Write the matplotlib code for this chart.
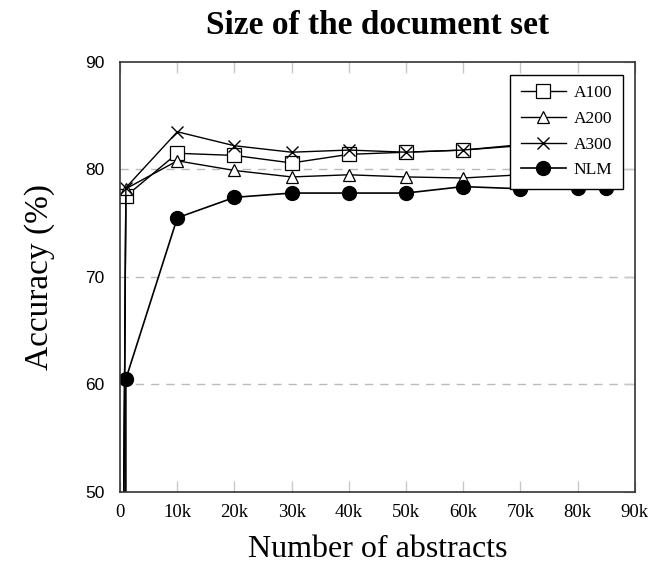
import matplotlib
matplotlib.use("Agg")
import matplotlib.pyplot as plt

# number of abstracts
x_a = [0, 1000, 10000, 20000, 30000, 40000, 50000, 60000, 70000, 80000, 85000]
x_nlm = [1000, 1000, 10000, 20000, 30000, 40000, 50000, 60000, 70000, 80000, 85000]

a100 = [0, 77.5, 81.5, 81.3, 80.6, 81.4, 81.6, 81.8, 82.2, 82.3, 82.4]
a200 = [0, 78.2, 80.8, 79.9, 79.3, 79.5, 79.3, 79.2, 79.5, 79.6, 79.7]
a300 = [0, 78.3, 83.5, 82.2, 81.6, 81.8, 81.6, 81.8, 82.3, 82.4, 82.5]
nlm = [0, 60.5, 75.5, 77.4, 77.8, 77.8, 77.8, 78.4, 78.2, 78.3, 78.3]

xticks = [0, 10000, 20000, 30000, 40000, 50000, 60000, 70000, 80000, 90000]
xticklabels = ["0", "10k", "20k", "30k", "40k", "50k", "60k", "70k", "80k", "90k"]
yticks = [50, 60, 70, 80, 90]

serif = "Liberation Serif"
sans = "Liberation Sans"

fig = plt.figure(figsize=(6.53, 5.68), dpi=100)
ax = fig.add_axes([0.184, 0.134, 0.788, 0.757])

ax.plot(x_a, a100, color="black", lw=1, marker="s", ms=10, mfc="white", mec="black", mew=0.9, label="A100")
ax.plot(x_a, a200, color="black", lw=1, marker="^", ms=8, mfc="white", mec="black", mew=0.9, label="A200")
ax.plot(x_a, a300, color="black", lw=1, marker="x", ms=8, mec="black", mew=1, label="A300")
ax.plot(x_nlm, nlm, color="black", lw=1.2, marker="o", ms=10, mfc="black", mec="black", label="NLM")

ax.set_xlim(0, 90000)
ax.set_ylim(50, 90)
ax.set_xticks(xticks)
ax.set_xticklabels(xticklabels, fontfamily=serif, fontsize=13.5)
ax.set_yticks(yticks)
ax.set_yticklabels([str(v) for v in yticks], fontfamily=sans, fontsize=12.5)

ax.tick_params(axis="both", direction="in", color="#c8c8c8", length=8, width=1,
               top=True, right=True)
ax.tick_params(axis="x", pad=9)
ax.tick_params(axis="y", left=False, pad=11)
for g in [60, 70, 80]:
    ax.axhline(g, color="#bbbbbb", lw=1, ls=(0, (6, 5)), zorder=0)
for s in ax.spines.values():
    s.set_linewidth(1.2)
    s.set_color("#333333")

ax.set_title("Size of the document set", fontfamily=serif, fontweight="bold",
             fontsize=24, pad=20)
ax.set_xlabel("Number of abstracts", fontfamily=serif, fontsize=23, labelpad=10)
ax.set_ylabel("Accuracy (%)", fontfamily=serif, fontsize=24, labelpad=22)

leg = ax.legend(loc="upper right", bbox_to_anchor=(0.977, 0.97), frameon=True,
                fancybox=False, edgecolor="black", framealpha=1,
                prop={"family": serif, "size": 12.5}, handlelength=2.6,
                handletextpad=0.45, labelspacing=0.55, borderpad=0.6,
                borderaxespad=0.0)
leg.get_frame().set_linewidth(1)

fig.savefig("out.png", dpi=100)
